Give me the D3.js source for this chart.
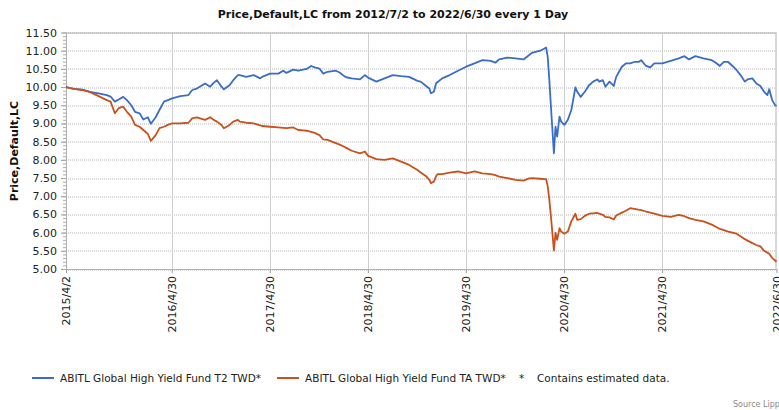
<!DOCTYPE html>
<html>
<head>
<meta charset="utf-8">
<script src="https://cdn.jsdelivr.net/npm/d3@7"></script>
<style>
  body { margin: 0; background: #fff; }
  text { font-family: "DejaVu Sans", Verdana, sans-serif; }
</style>
</head>
<body>
<div id="chart"></div>
<script>
// dates shared by both series
const dates = [
  "2015-04-02","2015-05-01","2015-06-01","2015-07-01","2015-08-01","2015-09-01","2015-09-15","2015-10-01","2015-10-15","2015-11-01","2015-11-15","2015-12-01","2015-12-15",
  "2016-01-01","2016-01-15","2016-02-01","2016-02-12","2016-03-01","2016-03-15","2016-04-01","2016-04-15","2016-05-01","2016-06-01","2016-07-01","2016-07-15","2016-08-01","2016-09-01","2016-09-20","2016-10-01","2016-10-15","2016-11-01","2016-11-10","2016-12-01","2016-12-15",
  "2017-01-01","2017-01-08","2017-02-01","2017-03-01","2017-03-25","2017-04-01","2017-05-01","2017-06-01","2017-06-19","2017-07-01","2017-07-26","2017-08-14","2017-09-01","2017-09-14","2017-10-01","2017-10-14","2017-11-01","2017-11-15","2017-12-01",
  "2018-01-01","2018-01-15","2018-02-01","2018-02-09","2018-03-01","2018-04-01","2018-04-19","2018-05-01","2018-06-01","2018-07-01","2018-08-01","2018-09-01","2018-10-01","2018-11-01","2018-11-13","2018-12-03","2018-12-15","2018-12-21",
  "2019-01-01","2019-01-09","2019-01-15","2019-02-01","2019-03-01","2019-04-01","2019-05-01","2019-06-01","2019-07-01","2019-08-01","2019-08-18","2019-09-01","2019-10-01","2019-11-01","2019-12-01","2019-12-22",
  "2020-01-01","2020-02-01","2020-02-17","2020-02-23","2020-02-29","2020-03-06","2020-03-12","2020-03-23","2020-03-29","2020-04-04","2020-04-13","2020-04-19","2020-05-01","2020-05-14","2020-05-27","2020-06-06","2020-06-11","2020-06-18","2020-07-01","2020-07-16","2020-08-01","2020-08-16","2020-09-01","2020-09-08","2020-09-21","2020-10-01","2020-10-16","2020-11-01","2020-11-10","2020-12-01","2020-12-16",
  "2021-01-01","2021-01-16","2021-02-01","2021-02-11","2021-03-01","2021-03-17","2021-04-01","2021-05-01","2021-06-01","2021-07-01","2021-07-22","2021-08-08","2021-09-01","2021-10-01","2021-11-01","2021-11-16","2021-12-01","2021-12-16",
  "2022-01-01","2022-01-17","2022-02-01","2022-02-16","2022-03-04","2022-03-14","2022-04-01","2022-04-16","2022-05-01","2022-05-15","2022-05-27","2022-06-03","2022-06-14","2022-06-24","2022-06-30"
];

const t2Values = [
  10.00,9.95,9.93,9.87,9.83,9.78,9.74,9.60,9.66,9.73,9.64,9.50,9.32,
  9.28,9.11,9.17,8.99,9.17,9.37,9.60,9.64,9.69,9.75,9.78,9.92,9.96,10.10,10.01,10.10,10.19,10.01,9.94,10.05,10.19,
  10.33,10.33,10.28,10.33,10.24,10.28,10.37,10.37,10.45,10.39,10.48,10.45,10.48,10.50,10.58,10.54,10.51,10.37,10.42,
  10.45,10.40,10.30,10.27,10.24,10.21,10.33,10.26,10.15,10.24,10.33,10.30,10.28,10.17,10.15,10.03,9.96,9.83,
  9.87,10.10,10.14,10.24,10.33,10.45,10.56,10.65,10.74,10.72,10.67,10.76,10.81,10.79,10.76,10.88,
  10.94,11.00,11.06,11.09,10.83,10.19,9.46,8.18,8.91,8.64,9.19,9.05,8.96,9.10,9.37,9.78,9.99,9.87,9.73,9.87,10.05,10.15,10.21,10.15,10.19,10.01,10.15,10.03,10.28,10.56,10.65,
  10.65,10.69,10.69,10.74,10.58,10.54,10.65,10.65,10.72,10.79,10.85,10.76,10.85,10.79,10.74,10.67,10.58,10.69,
  10.69,10.58,10.47,10.33,10.15,10.21,10.24,10.10,10.03,9.87,9.78,9.94,9.64,9.51,9.48
];

const taValues = [
  10.00,9.95,9.92,9.86,9.75,9.64,9.60,9.28,9.42,9.46,9.32,9.19,8.96,
  8.91,8.82,8.71,8.52,8.68,8.87,8.91,8.96,9.00,9.00,9.02,9.14,9.17,9.10,9.17,9.11,9.05,8.96,8.87,8.96,9.05,
  9.10,9.05,9.02,9.00,8.95,8.93,8.91,8.89,8.88,8.87,8.89,8.82,8.81,8.80,8.77,8.74,8.68,8.56,8.55,
  8.46,8.42,8.36,8.33,8.25,8.18,8.23,8.11,8.02,8.00,8.04,7.95,7.86,7.72,7.65,7.55,7.45,7.36,
  7.40,7.55,7.61,7.61,7.65,7.68,7.63,7.68,7.63,7.61,7.58,7.54,7.50,7.45,7.43,7.49,
  7.50,7.48,7.47,7.47,7.27,6.90,6.44,5.51,5.99,5.80,6.12,6.03,5.97,6.03,6.31,6.45,6.52,6.35,6.37,6.46,6.52,6.53,6.54,6.52,6.49,6.43,6.42,6.36,6.47,6.55,6.60,
  6.67,6.65,6.63,6.62,6.58,6.55,6.52,6.46,6.43,6.49,6.45,6.40,6.35,6.31,6.22,6.16,6.10,6.07,
  6.03,6.00,5.97,5.90,5.82,5.78,5.71,5.66,5.62,5.50,5.45,5.42,5.30,5.24,5.20
];

const seriesNames = ["ABITL Global High Yield Fund T2 TWD*", "ABITL Global High Yield Fund TA TWD*"];
const seriesColors = ["#3a6dc8", "#c9511b"];
const xTickDates = ["2015-04-02","2016-04-30","2017-04-30","2018-04-30","2019-04-30","2020-04-30","2021-04-30","2022-06-30"];
const yTicks = [5.00,5.50,6.00,6.50,7.00,7.50,8.00,8.50,9.00,9.50,10.00,10.50,11.00,11.50];

const W = 779, H = 410;
const margin = { top: 32.5, right: 2.5, bottom: 141, left: 66 };
const width = W - margin.left - margin.right,
      height = H - margin.top - margin.bottom;

const parse = d3.timeParse("%Y-%m-%d");
const fmt = d3.timeFormat("%Y/%-m/%-d");

const series = [t2Values, taValues].map((vals, k) => ({
  name: seriesNames[k],
  color: seriesColors[k],
  values: vals.map((v, i) => ({ date: parse(dates[i]), value: v }))
}));

const x = d3.scaleTime()
  .domain([parse(xTickDates[0]), parse(xTickDates[xTickDates.length - 1])])
  .range([0, width]);
const y = d3.scaleLinear().domain([5, 11.5]).range([height, 0]);

const svg = d3.select("#chart").append("svg")
  .attr("width", W).attr("height", H);

// Title
svg.append("text")
  .attr("x", 393).attr("y", 18)
  .attr("text-anchor", "middle")
  .attr("font-size", 11).attr("font-weight", "bold").attr("fill", "#111")
  .text("Price,Default,LC from 2012/7/2 to 2022/6/30 every 1 Day");

const g = svg.append("g").attr("transform", `translate(${margin.left},${margin.top})`);

// horizontal grid (dotted)
g.append("g")
  .selectAll("line").data(yTicks).join("line")
  .attr("x1", 0).attr("x2", width)
  .attr("y1", d => Math.round(y(d)) + 0.5).attr("y2", d => Math.round(y(d)) + 0.5)
  .attr("stroke", "#b4b4b4").attr("stroke-dasharray", "1,1");

// vertical grid
g.append("g")
  .selectAll("line").data(xTickDates.slice(1, -1)).join("line")
  .attr("x1", d => Math.round(x(parse(d))) + 0.5).attr("x2", d => Math.round(x(parse(d))) + 0.5)
  .attr("y1", 0).attr("y2", height)
  .attr("stroke", "#cfcfcf");

// y axis
const yAxis = g.append("g")
  .call(d3.axisLeft(y).tickValues(yTicks).tickFormat(d3.format(".2f")).tickSize(5).tickPadding(4));
yAxis.select(".domain").remove();
yAxis.selectAll("line").attr("stroke", "#999");
yAxis.selectAll("text").attr("font-size", 11).attr("fill", "#222")
  .style("font-family", '"DejaVu Sans", Verdana, sans-serif');

// minor y ticks
g.append("g")
  .call(d3.axisLeft(y).ticks(65).tickFormat("").tickSize(3))
  .call(s => s.select(".domain").remove())
  .selectAll("line").attr("stroke", "#aaa");

// x axis
const xAxis = g.append("g")
  .attr("transform", `translate(0,${height})`)
  .call(d3.axisBottom(x).tickValues(xTickDates.map(parse)).tickFormat(fmt).tickSize(4).tickPadding(4));
xAxis.select(".domain").remove();
xAxis.selectAll("line").attr("stroke", "#999");
xAxis.selectAll("text")
  .attr("font-size", 11).attr("fill", "#222")
  .style("font-family", '"DejaVu Sans", Verdana, sans-serif')
  .attr("transform", "rotate(-90)")
  .attr("text-anchor", "end")
  .attr("x", -7).attr("y", 0).attr("dy", "0.35em");

// plot border
g.append("rect")
  .attr("x", 0.5).attr("y", 0.5).attr("width", width - 1).attr("height", height)
  .attr("fill", "none").attr("stroke", "#b0b0b0");

// lines
const line = d3.line().x(d => x(d.date)).y(d => y(d.value));
g.append("g").selectAll("path").data(series).join("path")
  .attr("d", d => line(d.values))
  .attr("fill", "none")
  .attr("stroke", d => d.color)
  .attr("stroke-width", 1.8)
  .attr("stroke-linejoin", "round");

// y axis title
svg.append("text")
  .attr("transform", "translate(18,151) rotate(-90)")
  .attr("text-anchor", "middle")
  .attr("font-size", 11).attr("font-weight", "bold").attr("fill", "#111")
  .text("Price,Default,LC");

// legend
const legendPos = [32, 277];
const legend = svg.append("g").attr("transform", "translate(0,378)");
series.forEach((s, i) => {
  const lg = legend.append("g").attr("transform", `translate(${legendPos[i]},0)`);
  lg.append("line").attr("x1", 0).attr("x2", 22).attr("y1", 0).attr("y2", 0)
    .attr("stroke", s.color).attr("stroke-width", 2);
  lg.append("text").attr("x", 28).attr("y", 4)
    .attr("font-size", 10.5).attr("fill", "#222").text(s.name);
});
legend.append("text").attr("x", 519).attr("y", 4)
  .attr("font-size", 10.5).attr("fill", "#222").text("*");
legend.append("text").attr("x", 537).attr("y", 4)
  .attr("font-size", 10.5).attr("fill", "#222").text("Contains estimated data.");

// source
svg.append("text")
  .attr("x", 733).attr("y", 407)
  .attr("font-size", 8).attr("fill", "#888")
  .text("Source Lipper");
</script>
</body>
</html>
